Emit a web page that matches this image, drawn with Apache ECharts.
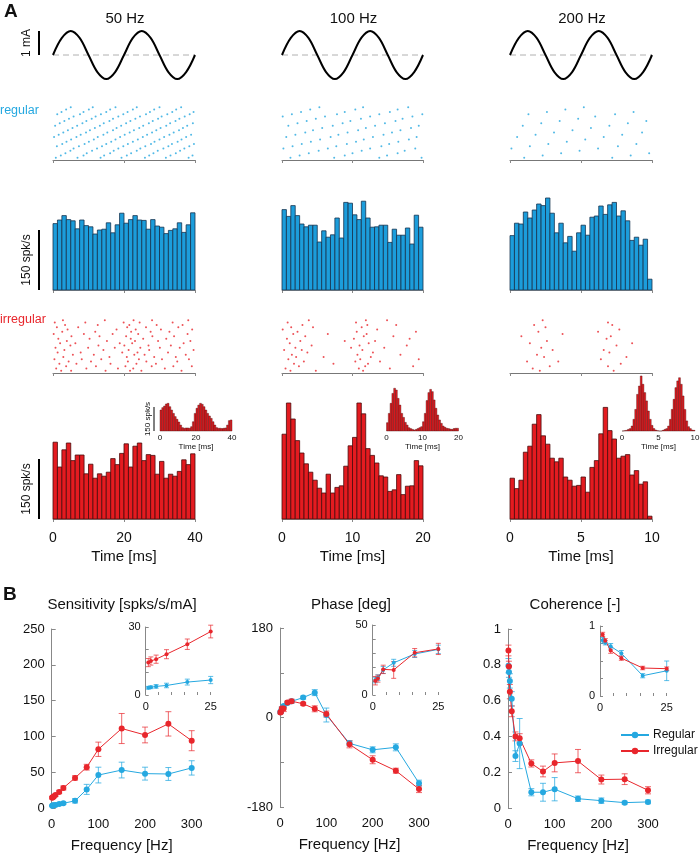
<!DOCTYPE html>
<html><head><meta charset="utf-8">
<script src="https://cdn.jsdelivr.net/npm/echarts@6/dist/echarts.min.js"></script>
<style>html,body{margin:0;padding:0;background:#fff}#c{width:700px;height:853px}</style>
</head><body><div id="c"></div>
<script>
// ---------------- DATA ----------------
const freqLabels = ['50 Hz', '100 Hz', '200 Hz'];
const sineT50  = [0,2.5,5,7.5,10,12.5,15,17.5,20,22.5,25,27.5,30,32.5,35,37.5,40];
const sineT100 = [0,1.25,2.5,3.75,5,6.25,7.5,8.75,10,11.25,12.5,13.75,15,16.25,17.5,18.75,20];
const sineT200 = [0,0.625,1.25,1.875,2.5,3.125,3.75,4.375,5,5.625,6.25,6.875,7.5,8.125,8.75,9.375,10];
const sineI    = [0,0.71,1,0.71,0,-0.71,-1,-0.71,0,0.71,1,0.71,0,-0.71,-1,-0.71,0];

// spike times (ms), one row per trial
const reg50 = [
 [0.8,6.9,13.4,19.3,25.9,31.8,38.2],[2.2,8.6,14.4,20.8,27.1,33.1,39.3],[3.5,9.5,16.1,22.0,28.3,34.6],
 [4.9,11.0,17.1,23.6,29.5,35.8],[5.8,12.4,18.4,24.6,31.1,37.0],[1.1,7.3,13.8,19.8,26.0,32.5,38.4],
 [2.6,8.9,15.0,21.1,27.6,33.5,39.7],[3.8,10.1,16.4,22.5,28.6,35.1],[5.1,11.5,17.6,23.9,30.0,36.2],
 [0.3,6.6,12.6,18.9,25.3,31.3,37.5],[1.6,7.8,14.2,20.2,26.5,32.8,38.9],[2.9,9.3,15.3,21.6,27.9,34.0],
 [4.2,10.4,16.9,22.8,29.1,35.5],[5.5,11.8,17.9,24.3,30.3,36.6],[0.6,6.8,13.2,19.2,25.4,31.9,37.8],
 [1.9,8.3,14.3,20.6,27.0,33.0,39.4],[3.2,9.4,15.9,21.8,28.1,34.5],[4.5,10.9,16.9,23.2,29.6,35.6],
 [5.8,12.0,18.4,24.5,30.6,37.1],[1.2,7.6,13.5,19.8,26.2,32.2,38.5],[2.4,8.6,15.0,21.0,27.3,33.6,39.6],
 [3.7,10.1,16.1,22.5,28.5,34.7],[5.0,11.2,17.6,23.6,30.0,36.1]
];
const reg100 = [
 [1.2,7.4,13.8,19.8],[2.5,8.9,14.9],[3.8,10.0,16.4],[5.2,11.3,17.4],[0.2,6.5,12.5,18.9],
 [1.5,7.7,14.1],[2.8,9.2,15.2],[4.1,10.5,16.5],[5.4,11.6,18.0],[0.6,6.9,12.9,19.1],
 [1.9,8.0,14.4],[3.3,9.3,15.6],[4.4,10.8,16.8],[5.7,11.9,18.3],[0.9,7.2,13.2,19.4],
 [2.2,8.6,14.6],[3.5,9.7,16.1],[4.8,11.2,17.1],[0.1,6.1,12.5,18.5],[1.4,7.8,13.8,19.9],
 [2.7,8.9,15.3],[4.0,10.4,16.4],[5.3,11.5,17.9]
];
const reg200 = [
 [1.0,7.2],[2.3,8.5],[3.6,9.8],[4.9],[0.1,6.2],[1.4,7.6],[2.7,8.9],[4.0],[5.3],[0.5,6.6],
 [1.8,7.9],[3.1,9.3],[4.4],[5.7],[0.9,7.0],[2.2,8.3],[3.5,9.6],[4.8],[6.0],[1.3,7.4],
 [2.6,8.7],[3.9],[5.2]
];
const irr50 = [
 [2.3,5.1,14.8,21.7,24.9,36.2],[0.9,9.4,18.3,22.6,31.5],[3.7,12.1,20.4,27.8,33.9,39.1],
 [1.8,6.6,16.2,23.5,29.0],[4.4,10.7,21.1,26.3,35.0],[0.4,8.1,13.6,24.2,30.7,38.3],
 [2.9,15.9,20.8,28.5,34.6],[5.6,11.5,22.9,25.8,37.4],[1.3,7.8,19.5,23.8,32.4],
 [3.2,14.2,21.3,27.1,39.6],[0.7,9.9,17.4,24.6,30.1,35.7],[4.9,12.8,20.1,26.9,33.2],
 [2.0,6.3,18.8,22.3,36.8],[3.9,15.2,23.1,29.6,38.7],[1.5,10.3,21.9,25.4,31.9],
 [5.2,13.1,20.6,28.0,34.1],[0.2,8.7,16.8,24.0,37.9],[2.6,11.9,22.0,27.5,32.8],
 [4.1,17.9,23.3,30.4,39.2],[1.1,7.1,20.9,26.2,35.3],[3.4,12.6,21.5,29.2,36.5],
 [0.5,9.1,19.9,24.4,33.7],[2.8,14.6,22.7,27.9,38.1]
];
const irr100 = [
 [1.2,4.8,11.5],[0.5,10.9,15.3],[2.4,11.8,18.6],[1.7,7.3,12.2],[3.1,10.4,13.9],[0.9,11.1,19.4],
 [2.0,5.9,12.6],[1.4,10.7,16.8],[3.6,12.9],[0.3,2.8,11.4],[1.9,9.8,14.5],[4.2,11.0,17.7],
 [1.1,12.3],[2.6,8.9,13.2],[0.7,10.2,18.1],[3.3,11.6,15.8],[1.6,6.5,12.0],[2.2,10.6,19.0],
 [0.1,13.5],[1.3,4.4,11.3],[2.9,12.1,16.2],[0.8,10.5],[3.8,11.9,14.9]
];
const irr200 = [
 [2.1,7.3],[1.6],[2.8,6.9],[7.8],[1.2,3.4],[6.4],[2.4,8.2],[1.9],[7.0],[3.0,6.6],[2.2],[7.5],
 [1.4,8.6],[2.6],[6.8],[0.8,7.1],[3.7],[2.0,6.2],[7.7],[2.5],[1.7,7.2],[6.9],[2.3]
];

// PSTH values (spk/s), equal-width bins over the window
const blue50  = [166,175,186,176,173,153,175,161,158,140,150,152,168,143,163,192,167,176,186,175,174,152,176,160,157,141,149,153,168,144,163,193];
const blue100 = [201,184,211,186,165,158,162,162,120,148,132,138,180,130,219,217,188,176,222,180,157,158,162,162,119,152,137,137,155,115,187,157];
const blue200 = [136,167,165,195,180,200,215,211,230,192,143,167,118,134,97,143,162,137,182,185,210,189,213,219,185,198,173,124,132,112,127,27];
const red50   = [192,130,173,190,146,160,160,113,137,102,113,107,117,151,136,164,188,130,182,190,146,161,159,112,144,102,112,107,119,148,136,163];
const red100  = [212,290,250,196,165,138,117,97,77,65,112,65,79,83,132,183,204,290,263,176,159,140,108,105,69,73,111,61,82,83,146,133];
const red200  = [102,76,97,167,182,237,261,208,187,152,143,152,105,97,82,84,105,67,129,146,213,279,221,200,152,157,161,110,121,87,93,7];
const inset50  = [131,146,156,169,173,152,131,110,90,73,56,37,21,17,19,19,17,27,58,110,142,162,173,167,152,131,110,94,79,58,37,21,17,17,15,17,19,37,65,69];
const inset100 = [52,110,173,235,267,256,204,162,110,85,54,37,21,15,10,6,10,15,21,27,58,110,190,240,260,246,194,142,100,69,48,31,23,17,15,12,10,15,17,17];
const inset200 = [0,2,4,10,15,31,73,135,229,281,344,292,240,188,125,73,35,15,6,2,0,0,4,10,15,31,73,135,198,271,313,333,292,219,135,63,27,15,6,4];

// Panel B
const freqs        = [1,2,4,8,16,25,50,75,100,150,200,250,300];
const sensReg      = [3.2,3.4,3.8,4.2,5.7,6.6,10,26,46,53,48,47.5,56];
const sensRegErr   = [0.6,0.6,0.8,1.0,1.3,1.6,3,7,11,11,9,9,10];
const sensIrr      = [14.3,15,15.8,18,22.4,28,42,57,82,111,102,117.5,94];
const sensIrrErr   = [1.8,1.8,1.8,2,2.3,2.8,3,4,10,21,11,17,14];
const phaseReg     = [10.7,12.4,17.9,23,29.3,32.6,40,50,5,-52,-65,-60,-132];
const phaseRegErr  = [2,2,2.5,2.5,2.5,3,3,6,14,5,6,7,6];
const phaseIrr     = [10.2,11.7,18.3,17.9,30.2,32.9,27.5,17.5,7,-54,-85,-107,-144];
const phaseIrrErr  = [3,2.5,3,6,3,4,3,6,6,7,8,5,7];
const cohReg       = [0.795,0.76,0.71,0.61,0.29,0.36,0.088,0.088,0.105,0.052,0.041,0.03,0.034];
const cohRegErr    = [0.04,0.03,0.04,0.04,0.03,0.14,0.02,0.05,0.065,0.015,0.015,0.008,0.01];
const cohIrr       = [0.88,0.79,0.65,0.54,0.40,0.39,0.249,0.204,0.252,0.262,0.159,0.161,0.099];
const cohIrrErr    = [0.03,0.03,0.04,0.03,0.025,0.025,0.02,0.03,0.05,0.065,0.025,0.03,0.02];
const bTitles = ['Sensitivity [spks/s/mA]', 'Phase [deg]', 'Coherence [-]'];
const legendNames = ['Regular', 'Irregular'];

// ---------------- STYLE / LAYOUT ----------------
const FONT = "'Liberation Sans', Arial, Helvetica, sans-serif";
const BLUE = '#25A8E0', RED = '#E8262C';
const BLUE_BAR = '#1C9DDB', RED_BAR = '#E41B20';
const BLUE_EDGE = '#17344F', RED_EDGE = '#4A0B0B';
const BLUE_ERR = 'rgba(37,168,224,0.75)', RED_ERR = 'rgba(232,38,44,0.7)';

const colsA = [{left:53,width:142},{left:282,width:141},{left:510,width:142}];
const insA  = [{left:160,width:72,top:399,height:32,max:200},
               {left:386.5,width:72,top:383,height:48,max:300},
               {left:622,width:73,top:375,height:56,max:350}];
const sineTs = [sineT50, sineT100, sineT200];
const regR = [reg50, reg100, reg200], irrR = [irr50, irr100, irr200];
const blueH = [blue50, blue100, blue200], redH = [red50, red100, red200];
const insH = [inset50, inset100, inset200];

const grid = [], xAxis = [], yAxis = [], series = [];
function G(g, x, y) {
  g.outerBoundsMode = 'none'; g.containLabel = false;
  grid.push(g);
  const i = grid.length - 1;
  xAxis.push(Object.assign({gridIndex:i, type:'value', splitLine:{show:false}}, x, {axisLine: Object.assign({onZero:false}, (x.axisLine||{}))}));
  yAxis.push(Object.assign({gridIndex:i, type:'value', splitLine:{show:false}}, y, {axisLine: Object.assign({onZero:false}, (y.axisLine||{}))}));
  return i;
}
function histRender(fill, stroke, lw) {
  return function (params, api) {
    const p0 = api.coord([api.value(0), 0]);
    const p1 = api.coord([api.value(1), api.value(2)]);
    return {type:'rect', shape:{x:p0[0], y:p1[1], width:p1[0]-p0[0], height:p0[1]-p1[1]},
            style:{fill:fill, stroke:stroke, lineWidth:lw}};
  };
}
function histData(vals, win) {
  const w = win / vals.length;
  return vals.map((v, i) => [i * w, (i + 1) * w, v]);
}
function rasterData(rows) {
  const out = [];
  rows.forEach((r, k) => r.forEach(t => out.push([t, k + 1])));
  return out;
}
const axTickGray = {show:true, length:3, lineStyle:{color:'#888', width:1}};

const gi = {};
for (let p = 0; p < 3; p++) {
  const win = sineTs[p][sineTs[p].length - 1];
  const c = colsA[p];
  // sine stimulus
  const gs = G({left:c.left, width:c.width, top:31, height:48},
    {show:false, min:0, max:win}, {show:false, min:-1, max:1});
  series.push({type:'line', xAxisIndex:gs, yAxisIndex:gs, data:[[0,0],[win,0]], showSymbol:false, silent:true,
    lineStyle:{color:'#b0b0b0', width:1, type:[6,4]}});
  series.push({type:'line', xAxisIndex:gs, yAxisIndex:gs, smooth:0.35, showSymbol:false, clip:false,
    data: sineTs[p].map((t, i) => [t, sineI[i]]), lineStyle:{color:'#000', width:2}});
  // regular raster
  const gr = G({left:c.left, width:c.width, top:105, height:55},
    {min:0, max:win, interval:win/2, axisLine:{show:true, lineStyle:{color:'#777', width:1}}, axisTick:axTickGray, axisLabel:{show:false}},
    {show:false, min:0, max:regR[p].length + 1});
  series.push({type:'scatter', xAxisIndex:gr, yAxisIndex:gr, data:rasterData(regR[p]), symbolSize:2, itemStyle:{color:BLUE}});
  // blue hist
  const gb = G({left:c.left, width:c.width, top:170, height:120},
    {min:0, max:win, interval:win/2, axisLine:{show:true, lineStyle:{color:'#999', width:1}}, axisTick:axTickGray, axisLabel:{show:false}},
    {show:false, min:0, max:300});
  series.push({type:'custom', xAxisIndex:gb, yAxisIndex:gb, renderItem:histRender(BLUE_BAR, BLUE_EDGE, 0.8),
    data:histData(blueH[p], win), encode:{x:[0,1], y:2}});
  // irregular raster
  const gir = G({left:c.left, width:c.width, top:318, height:55},
    {min:0, max:win, interval:win/2, axisLine:{show:true, lineStyle:{color:'#777', width:1}}, axisTick:axTickGray, axisLabel:{show:false}},
    {show:false, min:0, max:irrR[p].length + 1});
  series.push({type:'scatter', xAxisIndex:gir, yAxisIndex:gir, data:rasterData(irrR[p]), symbolSize:2, itemStyle:{color:RED}});
  // red hist
  const gh = G({left:c.left, width:c.width, top:399, height:120},
    {min:0, max:win, interval:win/2, axisLine:{show:true, lineStyle:{color:'#999', width:1}}, axisTick:axTickGray,
     axisLabel:{show:true, fontSize:14, color:'#111', margin:12, fontFamily:FONT},
     name:'Time [ms]', nameLocation:'middle', nameGap:30, nameTextStyle:{fontSize:15, color:'#111', fontFamily:FONT}},
    {show:false, min:0, max:300});
  series.push({type:'custom', xAxisIndex:gh, yAxisIndex:gh, renderItem:histRender(RED_BAR, RED_EDGE, 0.8),
    data:histData(redH[p], win), encode:{x:[0,1], y:2}});
  // inset
  const ic = insA[p];
  const gin = G({left:ic.left, width:ic.width, top:ic.top, height:ic.height},
    {min:0, max:win, interval:win/2, axisLine:{show:false}, axisTick:{show:false},
     axisLabel:{show:true, fontSize:8, color:'#111', margin:3, fontFamily:FONT},
     name:'Time [ms]', nameLocation:'middle', nameGap:12, nameTextStyle:{fontSize:8, color:'#111', fontFamily:FONT}},
    {show:false, min:0, max:ic.max});
  series.push({type:'custom', xAxisIndex:gin, yAxisIndex:gin, renderItem:histRender(RED_BAR, RED_EDGE, 0.4),
    data:histData(insH[p], win), encode:{x:[0,1], y:2}});
  gi[p] = {gs, gr, gb, gir, gh, gin};
}

// ---------- panel B ----------
const bMain = [{left:51.7,width:140,top:629,height:179,min:0,max:250,interval:50},
               {left:280,width:139,top:628,height:179,min:-180,max:180,interval:90},
               {left:508,width:140,top:629,height:179,min:0,max:1,interval:0.2}];
const bIns  = [{left:145.7,width:65,top:627,height:68,min:0,max:30,interval:10},
               {left:372.7,width:65.6,top:625,height:70,min:0,max:50,interval:10},
               {left:600,width:66.7,top:626,height:70,min:0,max:1,interval:0.25}];
const bData = [[sensReg,sensRegErr,sensIrr,sensIrrErr],[phaseReg,phaseRegErr,phaseIrr,phaseIrrErr],[cohReg,cohRegErr,cohIrr,cohIrrErr]];

function errRender(color, cap) {
  return function (params, api) {
    const x = api.value(0);
    const a = api.coord([x, api.value(1)]), b = api.coord([x, api.value(2)]);
    const st = {stroke:color, lineWidth:1};
    return {type:'group', children:[
      {type:'line', shape:{x1:a[0], y1:a[1], x2:b[0], y2:b[1]}, style:st},
      {type:'line', shape:{x1:a[0]-cap, y1:a[1], x2:a[0]+cap, y2:a[1]}, style:st},
      {type:'line', shape:{x1:b[0]-cap, y1:b[1], x2:b[0]+cap, y2:b[1]}, style:st}]};
  };
}
function addPair(g, n, vals, errs, color, ecolor, cap, sym, name) {
  const d = [], e = [];
  for (let i = 0; i < n; i++) { d.push([freqs[i], vals[i]]); e.push([freqs[i], vals[i]-errs[i], vals[i]+errs[i]]); }
  series.push({type:'custom', xAxisIndex:g, yAxisIndex:g, renderItem:errRender(ecolor, cap), data:e, encode:{x:0, y:[1,2]}, clip:false, z:2});
  const s = {type:'line', xAxisIndex:g, yAxisIndex:g, data:d, symbol:'circle', symbolSize:sym, showSymbol:true, clip:false, z:3,
    lineStyle:{color:color, width:1}, itemStyle:{color:color}};
  if (name) s.name = name;
  series.push(s);
}
const nIns = freqs.filter(f => f <= 25).length;
for (let p = 0; p < 3; p++) {
  const m = bMain[p];
  const gm = G({left:m.left, width:m.width, top:m.top, height:m.height},
    {min:0, max:300, interval:100, axisLine:{show:false}, axisTick:{show:false},
     axisLabel:{fontSize:13, color:'#111', margin:10, fontFamily:FONT},
     name:'Frequency [Hz]', nameLocation:'middle', nameGap:30, nameTextStyle:{fontSize:15, color:'#111', fontFamily:FONT}},
    {min:m.min, max:m.max, interval:m.interval, axisLine:{show:true, lineStyle:{color:'#888', width:1}},
     axisTick:{show:true, inside:true, length:4, lineStyle:{color:'#888'}},
     axisLabel:{fontSize:13, color:'#111', margin:7, fontFamily:FONT,
       formatter: p === 1 ? (v => (Math.abs(v) === 90 ? '' : String(v))) : (v => String(Math.round(v*10)/10))}});
  const D = bData[p];
  addPair(gm, freqs.length, D[0], D[1], BLUE, BLUE_ERR, 3, 6, p === 2 ? legendNames[0] : null);
  addPair(gm, freqs.length, D[2], D[3], RED, RED_ERR, 3, 6, p === 2 ? legendNames[1] : null);
  const q = bIns[p];
  const gq = G({left:q.left, width:q.width, top:q.top, height:q.height},
    {min:0, max:25, interval:5, axisLine:{show:false}, axisTick:{show:true, inside:true, length:3, lineStyle:{color:'#888'}},
     axisLabel:{fontSize:11, color:'#111', margin:6, fontFamily:FONT, formatter: v => (v === 0 || v === 25) ? String(v) : ''}},
    {min:q.min, max:q.max, interval:q.interval, axisLine:{show:true, lineStyle:{color:'#888', width:1}},
     axisTick:{show:true, inside:true, length:3, lineStyle:{color:'#888'}},
     axisLabel:{fontSize:11, color:'#111', margin:5, fontFamily:FONT, formatter: v => (v === q.min || v === q.max) ? String(v) : ''}});
  addPair(gq, nIns, D[0], D[1], BLUE, BLUE_ERR, 2.5, 4, null);
  addPair(gq, nIns, D[2], D[3], RED, RED_ERR, 2.5, 4, null);
}

const option = {
  animation:false,
  textStyle:{fontFamily:FONT},
  grid, xAxis, yAxis, series,
  legend:{data:legendNames, orient:'vertical', left:615, top:724, itemGap:4, itemWidth:28, itemHeight:8,
    textStyle:{fontSize:12, color:'#111', fontFamily:FONT, padding:[0,0,0,-1]}, selectedMode:false}
};
const chart = echarts.init(document.getElementById('c'));
chart.setOption(option);

// ---------- annotations ----------
const px = (g, pt) => chart.convertToPixel({gridIndex:g}, pt);
const gfx = [];
function txt(x, y, text, o) {
  gfx.push({type:'text', x:x, y:y, rotation:(o && o.rot) || 0, silent:true,
    style:Object.assign({text:text, fill:'#111', fontFamily:FONT, fontSize:14, align:'center', verticalAlign:'middle'}, (o && o.style) || {})});
}
function vbar(x, y1, y2, w) {
  gfx.push({type:'line', silent:true, shape:{x1:x, y1:y1, x2:x, y2:y2}, style:{stroke:'#000', lineWidth:w}});
}
txt(4, 12, 'A', {style:{fontSize:19, fontWeight:'bold', align:'left'}});
txt(3, 595, 'B', {style:{fontSize:19, fontWeight:'bold', align:'left'}});
for (let p = 0; p < 3; p++) txt(colsA[p].left + colsA[p].width/2 + 1, 19, freqLabels[p], {style:{fontSize:15}});
// 1 mA bar
const s0 = px(gi[0].gs, [0, 0]), s1 = px(gi[0].gs, [0, 1]);
vbar(39, s1[1], s0[1], 2);
txt(27, (s0[1]+s1[1])/2, '1 mA', {rot:Math.PI/2, style:{fontSize:12}});
txt(0, 111, 'regular', {style:{fill:BLUE, fontSize:12.5, align:'left'}});
txt(0, 320, 'irregular', {style:{fill:RED, fontSize:12.5, align:'left'}});
// 150 spk/s bars
[gi[0].gb, gi[0].gh].forEach(g => {
  const a = px(g, [0, 0]), b = px(g, [0, 150]);
  vbar(39, b[1], a[1], 2);
  txt(27, (a[1]+b[1])/2, '150 spk/s', {rot:Math.PI/2, style:{fontSize:12}});
});
{
  const a = px(gi[0].gin, [0, 0]), b = px(gi[0].gin, [0, 150]);
  vbar(154, b[1], a[1], 1);
  txt(148, (a[1]+b[1])/2, '150 spk/s', {rot:Math.PI/2, style:{fontSize:8}});
}
const bCenters = [122, 351, 575];
for (let p = 0; p < 3; p++) txt(bCenters[p], 605, bTitles[p], {style:{fontSize:15}});
chart.setOption({graphic:gfx});
</script></body></html>
